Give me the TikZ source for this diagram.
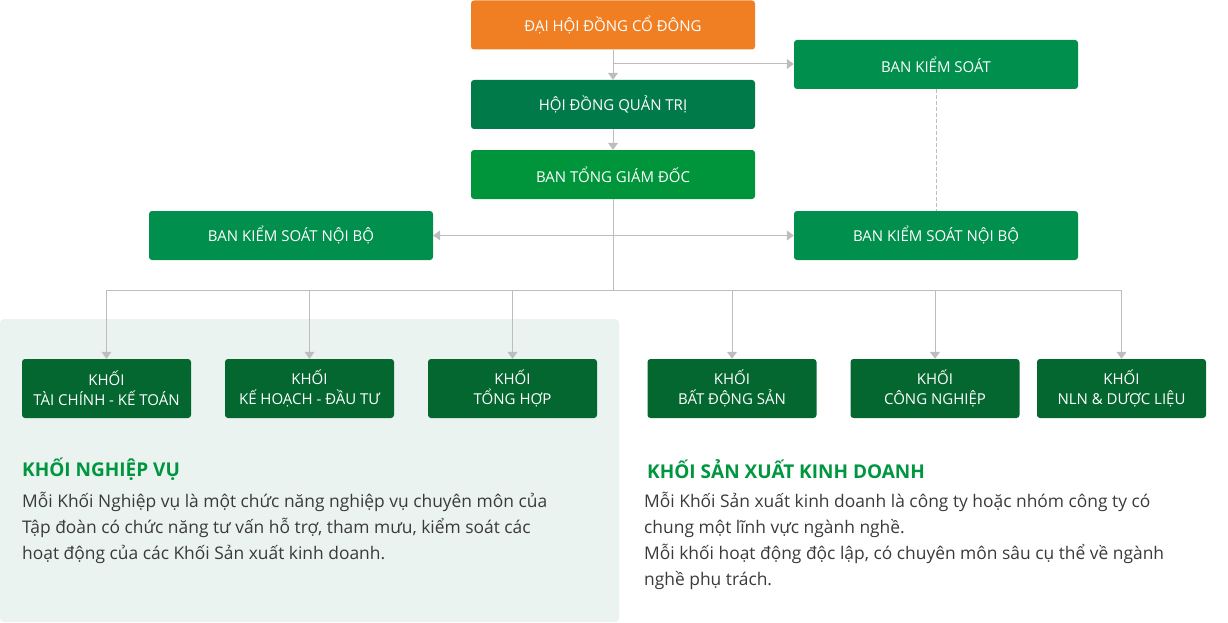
\documentclass[tikz,border=0pt]{standalone}
\usepackage{fontspec}
\setmainfont{Open Sans}
\usetikzlibrary{arrows.meta,positioning}
\definecolor{camDH}{HTML}{EF7F22}
\definecolor{xanhBK}{HTML}{008F4C}
\definecolor{xanhQT}{HTML}{007A48}
\definecolor{xanhTG}{HTML}{00953A}
\definecolor{xanhKH}{HTML}{03672F}
\definecolor{nenKH}{HTML}{EAF3EF}
\definecolor{xamLN}{HTML}{BDBDBD}
\definecolor{chuTD}{HTML}{00963F}
\definecolor{chuND}{HTML}{3A3A3A}
\begin{document}
\begin{tikzpicture}[x=1pt, y=-1pt, line join=round, >={Triangle[width=10pt,length=7pt]}]
		\tikzset{hop/.style={rounded corners=3pt, text=white, minimum width=284pt, minimum height=49pt, align=center, font=\fontsize{15}{20}\selectfont, inner sep=0pt},
			khoi/.style={hop, fill=xanhKH, minimum width=169pt, minimum height=59pt},
			noi/.style={draw=xamLN, line width=1pt},
			tieude/.style={anchor=west, text=chuTD, font=\fontsize{19}{20}\bfseries\selectfont, inner sep=0pt},
			doan/.style={anchor=north west, text=chuND, align=left, font=\fontsize{17.4}{26}\selectfont, inner sep=0pt}}
		\useasboundingbox (0,0) rectangle (1228,623);
		\fill[nenKH, rounded corners=4pt] (0,319) rectangle (619,622);
		% cac ban lanh dao
		\node[hop, fill=camDH] (dhdcd) at (613,25) {ĐẠI HỘI ĐỒNG CỔ ĐÔNG};
		\node[hop, fill=xanhBK] (bks) at (936,64.5) {BAN KIỂM SOÁT};
		\node[hop, fill=xanhQT] (hdqt) at (613,104.5) {HỘI ĐỒNG QUẢN TRỊ};
		\node[hop, fill=xanhTG] (btgd) at (613,174.5) {BAN TỔNG GIÁM ĐỐC};
		\node[hop, fill=xanhBK] (ksnbL) at (291,235.5) {BAN KIỂM SOÁT NỘI BỘ};
		\node[hop, fill=xanhBK] (ksnbR) at (936,235.5) {BAN KIỂM SOÁT NỘI BỘ};
		% cac khoi
		\node[khoi] (k1) at (106.5,388.5) {KHỐI\\TÀI CHÍNH - KẾ TOÁN};
		\node[khoi] (k2) at (309.5,388.5) {KHỐI\\KẾ HOẠCH - ĐẦU TƯ};
		\node[khoi] (k3) at (512.5,388.5) {KHỐI\\TỔNG HỢP};
		\node[khoi] (k4) at (732,388.5) {KHỐI\\BẤT ĐỘNG SẢN};
		\node[khoi] (k5) at (935,388.5) {KHỐI\\CÔNG NGHIỆP};
		\node[khoi] (k6) at (1121.5,388.5) {KHỐI\\NLN \& DƯỢC LIỆU};
		\coordinate (re) at (613,64);
		\coordinate (truc) at (613,290);
		\draw[noi,->] (dhdcd) -- (hdqt);
		\draw[noi,->] (re) -- (re -| bks.west);
		\draw[noi,->] (hdqt) -- (btgd);
		\draw[noi] (btgd) -- (truc);
		\draw[noi,<->] (ksnbL) -- (ksnbR);
		\draw[noi, dashed, dash pattern=on 4pt off 2pt] (bks) -- (ksnbR);
		\draw[noi] (k1.north |- truc) -- (k6.north |- truc);
		\foreach \k in {k1,k2,k3,k4,k5,k6}
			\draw[noi,->] (\k.north |- truc) -- (\k.north);
		% chu thich
		\node[tieude] (tdNV) at (22,469) {KHỐI NGHIỆP VỤ};
		\node[doan] (ndNV) at (22,492) {Mỗi Khối Nghiệp vụ là một chức năng nghiệp vụ chuyên môn của\\Tập đoàn có chức năng tư vấn hỗ trợ, tham mưu, kiểm soát các\\hoạt động của các Khối Sản xuất kinh doanh.};
		\node[tieude] (tdSX) at (647,469) {KHỐI SẢN XUẤT KINH DOANH};
		\node[doan] (ndSX) at (644,492) {Mỗi Khối Sản xuất kinh doanh là công ty hoặc nhóm công ty có\\chung một lĩnh vực ngành nghề.\\Mỗi khối hoạt động độc lập, có chuyên môn sâu cụ thể về ngành\\nghề phụ trách.};
\end{tikzpicture}
\end{document}
